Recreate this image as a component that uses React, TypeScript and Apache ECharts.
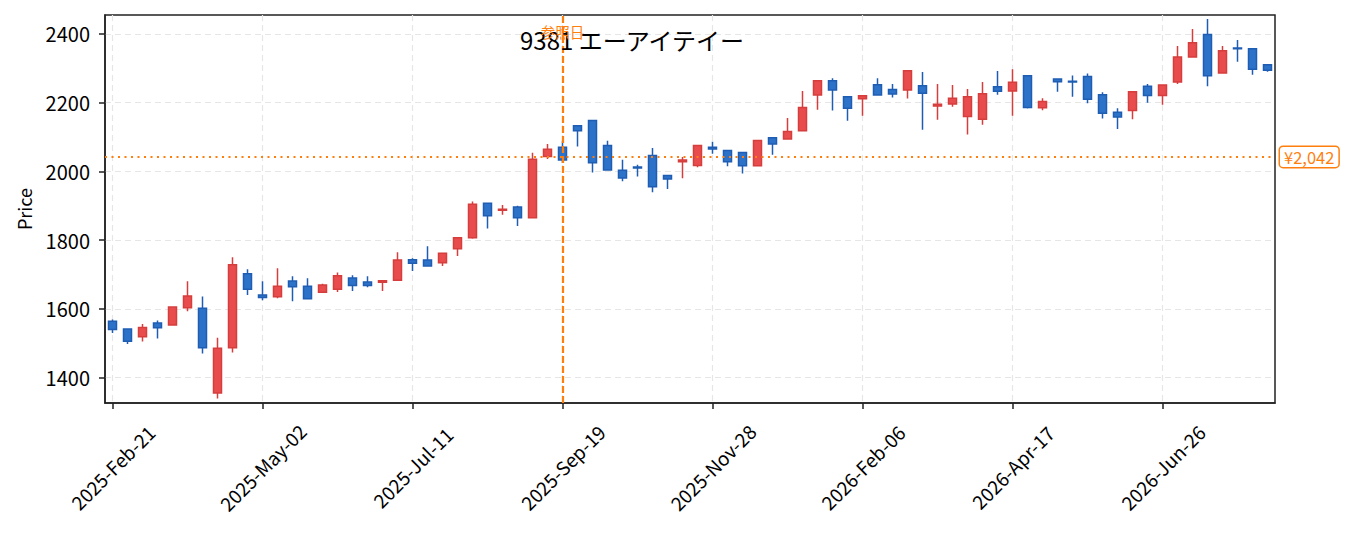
import React, { useEffect, useRef } from "react";
import * as echarts from "echarts";

const FONT = '"Noto Sans CJK JP", "Noto Sans", sans-serif';

const startDate = "2025-02-21";
const weekCount = 78;
const monthNames = ["Jan", "Feb", "Mar", "Apr", "May", "Jun", "Jul", "Aug", "Sep", "Oct", "Nov", "Dec"];

const opens = [
  1564, 1541, 1519, 1559, 1553, 1603, 1602, 1355, 1487, 1702,
  1640, 1635, 1681, 1666, 1648, 1657, 1690, 1678, 1677, 1683,
  1743, 1742, 1734, 1775, 1807, 1907, 1887, 1896, 1865, 2043,
  2070, 2133, 2148, 2075, 2003, 2013, 2046, 1988, 2028, 2017,
  2070, 2061, 2055, 2016, 2098, 2094, 2118, 2222, 2264, 2217,
  2211, 2252, 2238, 2237, 2249, 2190, 2196, 2160, 2152, 2246,
  2234, 2278, 2185, 2269, 2262, 2276, 2223, 2172, 2177, 2248,
  2221, 2260, 2333, 2398, 2286, 2359, 2357, 2310,
];
const closes = [
  1540, 1506, 1546, 1545, 1605, 1637, 1487, 1485, 1728, 1657,
  1633, 1666, 1664, 1629, 1669, 1696, 1668, 1668, 1682, 1742,
  1733, 1725, 1762, 1807, 1904, 1871, 1890, 1865, 2035, 2064,
  2033, 2118, 2025, 2004, 1981, 2010, 1955, 1978, 2033, 2075,
  2065, 2028, 2016, 2090, 2080, 2116, 2186, 2264, 2237, 2184,
  2220, 2222, 2225, 2293, 2227, 2195, 2213, 2217, 2226, 2233,
  2259, 2186, 2203, 2261, 2260, 2210, 2169, 2158, 2232, 2221,
  2251, 2333, 2374, 2278, 2351, 2357, 2297, 2294,
];
const lows = [
  1530, 1498, 1505, 1514, 1553, 1593, 1470, 1339, 1473, 1640,
  1625, 1631, 1622, 1629, 1648, 1649, 1652, 1663, 1652, 1683,
  1710, 1725, 1725, 1754, 1804, 1834, 1874, 1841, 1865, 2036,
  2024, 2072, 1997, 2004, 1971, 1985, 1939, 1949, 1980, 2012,
  2051, 2015, 1994, 2016, 2048, 2094, 2118, 2179, 2177, 2147,
  2162, 2222, 2215, 2212, 2121, 2150, 2188, 2107, 2136, 2223,
  2162, 2183, 2178, 2232, 2217, 2198, 2154, 2123, 2152, 2200,
  2194, 2254, 2333, 2248, 2286, 2319, 2281, 2290,
];
const highs = [
  1569, 1541, 1556, 1566, 1605, 1680, 1636, 1516, 1750, 1715,
  1680, 1718, 1695, 1689, 1673, 1706, 1698, 1695, 1682, 1765,
  1747, 1782, 1762, 1807, 1912, 1907, 1902, 1900, 2054, 2080,
  2089, 2133, 2148, 2089, 2034, 2019, 2068, 1988, 2042, 2075,
  2086, 2061, 2055, 2090, 2098, 2155, 2234, 2264, 2271, 2217,
  2220, 2271, 2254, 2293, 2289, 2254, 2251, 2240, 2260, 2292,
  2297, 2278, 2213, 2269, 2279, 2285, 2230, 2184, 2232, 2254,
  2251, 2365, 2414, 2443, 2365, 2382, 2357, 2310,
];

const refIndex = 30;
const refPrice = 2042;
const refPriceLabel = "¥2,042";
const refDateLabel = "参照日";
const titleText = "9381 エーアイテイー";
const yMin = 1326;
const yMax = 2455;

function buildDates(): string[] {
  const out: string[] = [];
  const base = new Date(startDate + "T00:00:00Z");
  for (let i = 0; i < weekCount; i++) {
    const d = new Date(base.getTime() + i * 7 * 86400000);
    const dd = String(d.getUTCDate()).padStart(2, "0");
    out.push(`${d.getUTCFullYear()}-${monthNames[d.getUTCMonth()]}-${dd}`);
  }
  return out;
}

export default function App() {
  const ref = useRef<HTMLDivElement>(null);
  useEffect(() => {
    if (!ref.current) return;
    const chart = echarts.init(ref.current, undefined, { renderer: "svg" });
    const dates = buildDates();
    const candles = opens.map((o, i) => [o, closes[i], lows[i], highs[i]]);
    const orange = "#ff7f0e";
    const option: any = {
      animation: false,
      backgroundColor: "#ffffff",
      title: {
        text: titleText,
        left: 520,
        top: 27,
        padding: 0,
        textStyle: { fontFamily: FONT, fontSize: 24, fontWeight: "normal", color: "#000" },
      },
      grid: {
        left: 105,
        right: 80,
        top: 15,
        bottom: 130,
        show: true,
        borderColor: "#222",
        borderWidth: 1.5,
        backgroundColor: "transparent",
      },
      xAxis: {
        type: "category",
        data: dates,
        boundaryGap: true,
        axisLine: { show: true, lineStyle: { color: "#222", width: 1.5 } },
        axisTick: { show: true, interval: 9, alignWithLabel: true, length: 6, lineStyle: { color: "#222", width: 1.5 } },
        axisLabel: {
          interval: 9,
          rotate: 45,
          align: "center",
          verticalAlign: "middle",
          margin: 64,
          fontFamily: FONT,
          fontSize: 19,
          color: "#000",
        },
        splitLine: {
          show: true,
          interval: 9,
          alignWithLabel: true,
          lineStyle: { color: "#e6e6e6", type: [6, 4], width: 1.2 },
        },
      },
      yAxis: {
        type: "value",
        min: yMin,
        max: yMax,
        scale: true,
        name: "Price",
        nameLocation: "middle",
        nameGap: 72,
        nameTextStyle: { fontFamily: FONT, fontSize: 18, color: "#000" },
        axisLine: { show: true, lineStyle: { color: "#222", width: 1.5 } },
        axisTick: { show: true, length: 6, lineStyle: { color: "#222", width: 1.5 } },
        axisLabel: {
          margin: 15,
          fontFamily: FONT,
          fontSize: 20,
          color: "#000",
          showMinLabel: false,
          showMaxLabel: false,
          formatter: (v: number) => (Math.round(v) % 200 === 0 ? String(v) : ""),
        },
        splitLine: {
          show: true,
          showMinLine: false,
          showMaxLine: false,
          lineStyle: { color: "#e6e6e6", type: [6, 4], width: 1.2 },
        },
      },
      series: [
        {
          type: "candlestick",
          data: candles,
          barWidth: 9,
          itemStyle: {
            color: "#e84c4c",
            color0: "#2c72c8",
            borderColor: "#d63d3d",
            borderColor0: "#1f5db3",
            borderWidth: 1.5,
          },
          markLine: {
            silent: true,
            symbol: "none",
            animation: false,
            data: [
              {
                xAxis: dates[refIndex],
                lineStyle: { color: orange, type: [7, 3], width: 2.2 },
                label: { show: false },
              },
              {
                yAxis: refPrice,
                lineStyle: { color: orange, type: [2, 4.5], width: 2 },
                label: {
                  show: true,
                  position: "end",
                  distance: 5,
                  formatter: refPriceLabel,
                  color: orange,
                  fontFamily: FONT,
                  fontSize: 16.5,
                  lineHeight: 18,
                  backgroundColor: "#fff",
                  borderColor: orange,
                  borderWidth: 1.5,
                  borderRadius: 3,
                  padding: [1, 4, 1, 4],
                },
              },
            ],
          },
        },
      ],
    };
    chart.setOption(option);
    const pt = chart.convertToPixel({ xAxisIndex: 0, yAxisIndex: 0 }, [dates[refIndex], refPrice]) as number[];
    chart.setOption({
      graphic: [
        {
          type: "text",
          x: pt[0],
          y: 31,
          z: 100,
          style: {
            text: refDateLabel,
            fill: orange,
            font: `14.5px ${FONT}`,
            textAlign: "center",
            textVerticalAlign: "middle",
          },
        },
      ],
    });
    return () => chart.dispose();
  }, []);
  return (
    <div
      ref={ref}
      style={{ position: "fixed", left: 0, top: 0, width: 1355, height: 533 }}
    />
  );
}
